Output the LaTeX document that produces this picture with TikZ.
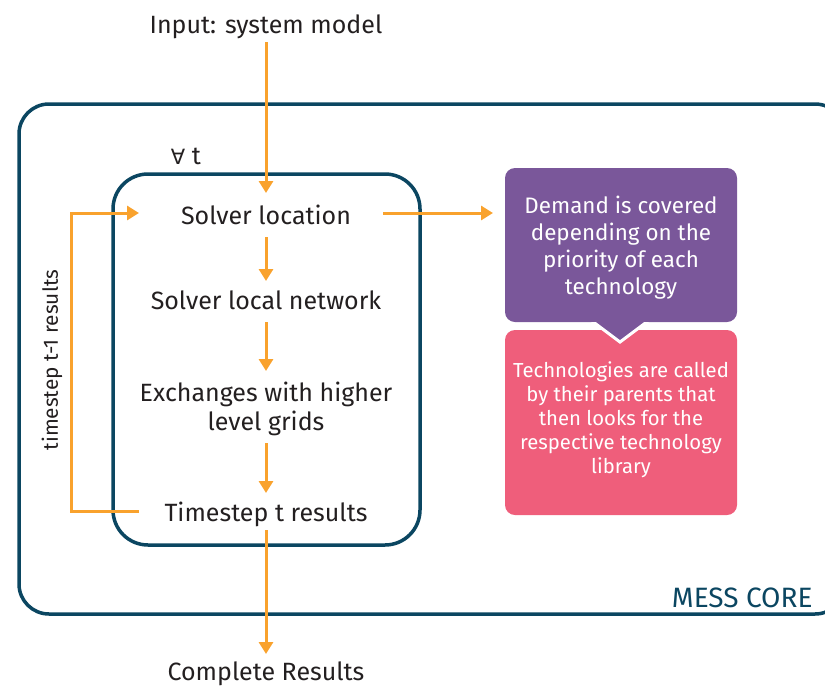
\documentclass[tikz,border=0pt]{standalone}
\usepackage{fontspec}
\setmainfont{Fira Sans}
\newfontfamily\dejavu{DejaVu Sans}
\usetikzlibrary{arrows.meta}
\definecolor{orng}{HTML}{F9A22D}
\definecolor{teal}{HTML}{0B4661}
\definecolor{purp}{HTML}{7A579A}
\definecolor{pink}{HTML}{EF5E7B}
\definecolor{txt}{HTML}{231F20}
\begin{document}
\begin{tikzpicture}[x=1pt,y=-1pt,
  flow/.style={draw=orng,line width=3pt,-{Triangle[length=12pt,width=14pt]}},
  frame/.style={draw=teal,line width=3.5pt},
  lbl/.style={text=txt,font=\fontsize{25}{29}\selectfont,align=center,inner sep=2pt},
  callout/.style={text=white,align=center,inner sep=0pt}]
\useasboundingbox (0,0) rectangle (825,686);
\clip (0,0) rectangle (825,686);
% frames
\draw[frame,rounded corners=30pt] (19,104) rectangle (845,614);
\draw[frame,rounded corners=35pt] (113,174) rectangle (420,545);
\node[text=teal,font=\fontsize{28}{32}\selectfont,anchor=east] (core) at (816,598) {MESS CORE};
\node[lbl] (forall) at (186,156) {{\dejavu\fontsize{21}{25}\selectfont ∀} t};
% flow nodes
\node[lbl] (input) at (266,27) {Input: system model};
\node[lbl] (loc) at (266,215) {Solver location};
\node[lbl] (net) at (266,300) {Solver local network};
\node[lbl] (exch) at (266,409) {Exchanges with higher\\level grids};
\node[lbl] (res) at (266,514) {Timestep t results};
\node[lbl] (comp) at (266,674) {Complete Results};
% callouts
\fill[purp,rounded corners=10pt] (505,168) rectangle (737,322);
\node[callout,font=\fontsize{22.4}{27}\selectfont] (demand) at (621,248) {Demand is covered\\depending on the\\priority of each\\technology};
\fill[pink,rounded corners=10pt] (505,330) rectangle (737,515);
\node[callout,font=\fontsize{20.3}{24}\selectfont] (tech) at (621,420) {Technologies are called\\by their parents that\\then looks for the\\respective technology\\library};
\draw[white,line width=3pt,fill=purp,line join=miter] (592,321) -- (620,342) -- (648,321);
\fill[purp] (590,314) rectangle (650,321.5);
% arrows
\coordinate (inA) at (266,42);
\coordinate (inB) at (266,193);
\draw[flow] (inA) -- (inB);
\draw[flow] (266,237) -- (266,281);
\draw[flow] (266,322) -- (266,371);
\draw[flow] (266,443) -- (266,493);
\draw[flow] (266,530) -- (266,654);
\draw[flow] (383,213) -- (493,213);
\coordinate (fbA) at (139,511);
\coordinate (fbB) at (71,511);
\coordinate (fbC) at (71,213);
\coordinate (fbD) at (139,213);
\draw[flow] (fbA) -- (fbB) -- (fbC) -- (fbD);
\node[text=txt,font=\fontsize{20.8}{24}\selectfont,rotate=90] (prev) at (52,360) {timestep t-1 results};
\end{tikzpicture}
\end{document}
